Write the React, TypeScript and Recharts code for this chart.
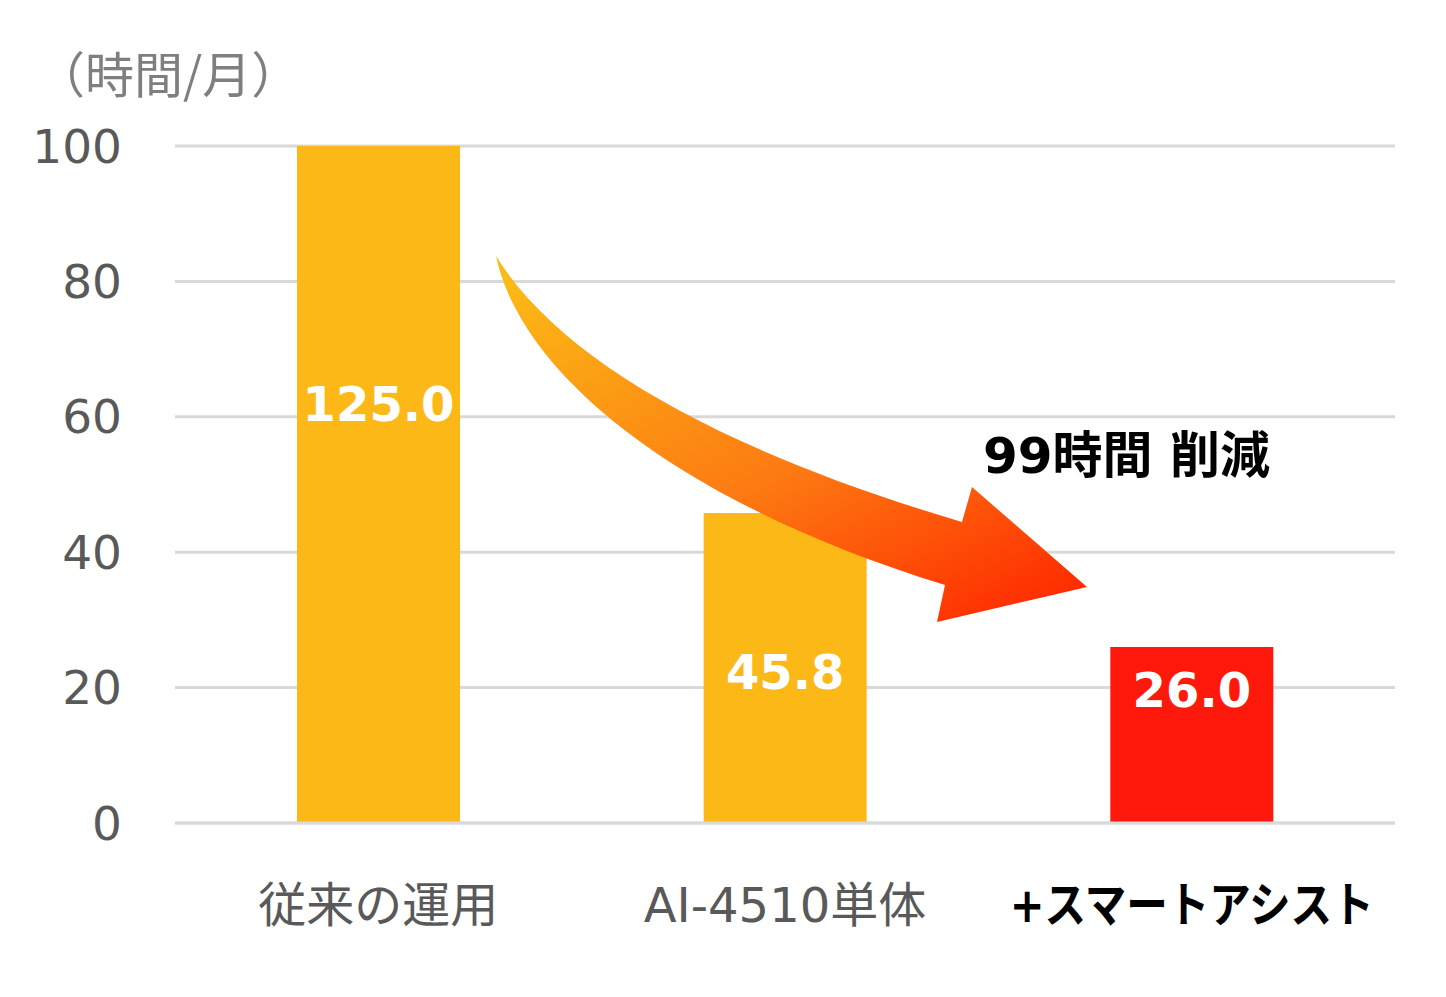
import { Bar, BarChart, CartesianGrid, Cell, LabelList, XAxis, YAxis } from "recharts";

const categories = ["従来の運用", "AI-4510単体", "+スマートアシスト"];
const hours = [125.0, 45.8, 26.0];
const barColors = ["#FBB817", "#FBB817", "#FF190C"];
const yTicks = [0, 20, 40, 60, 80, 100];
const unitLabel = "（時間/月）";
const reductionLabel = "99時間 削減";

const data = categories.map((name, i) => ({ name, hours: hours[i] }));

const FONT = "'DejaVu Sans', 'Noto Sans CJK JP', sans-serif";

function CategoryTick(props: any) {
  const { x, y, payload, index } = props;
  const last = index === categories.length - 1;
  return (
    <text
      x={x}
      y={y + 82}
      textAnchor="middle"
      dominantBaseline="central"
      fontFamily={FONT}
      fontSize={48}
      fontWeight={last ? 700 : 400}
      fill={last ? "#000000" : "#595959"}
      // the bold katakana in the original is set in a narrower face
      textLength={last ? 364 : undefined}
      lengthAdjust={last ? "spacingAndGlyphs" : undefined}
    >
      {payload.value}
    </text>
  );
}

function ValueLabel(props: any) {
  const { x, y, width, height, value } = props;
  // tall bars: centred, short bar: near the top
  const cy = height > 200 ? y + height / 2 + 4 : y + 43;
  return (
    <text
      x={x + width / 2}
      y={cy}
      textAnchor="middle"
      dominantBaseline="central"
      fontFamily={FONT}
      fontSize={48}
      fontWeight={700}
      fill="#FFFFFF"
    >
      {Number(value).toFixed(1)}
    </text>
  );
}

export default function App() {
  return (
    <div style={{ position: "absolute", left: 0, top: 0, width: 1446, height: 997, background: "#fff" }}>
      <BarChart
        width={1446}
        height={997}
        data={data}
        margin={{ top: 146, right: 51, bottom: 0, left: 0 }}
        barCategoryGap="30%"
      >
        <CartesianGrid horizontal vertical={false} stroke="#D9D9D9" strokeWidth={3} />
        <XAxis
          dataKey="name"
          axisLine={{ stroke: "#D9D9D9", strokeWidth: 3 }}
          tickLine={false}
          tickSize={0}
          tickMargin={0}
          height={174}
          interval={0}
          tick={<CategoryTick />}
        />
        <YAxis
          domain={[0, 100]}
          ticks={yTicks}
          allowDataOverflow
          width={175}
          axisLine={false}
          tickLine={false}
          tickSize={0}
          tickMargin={53}
          tick={{ fill: "#595959", fontSize: 47, fontFamily: FONT }}
        />
        <Bar dataKey="hours" isAnimationActive={false}>
          {data.map((d, i) => (
            <Cell key={d.name} fill={barColors[i]} />
          ))}
          <LabelList dataKey="hours" content={<ValueLabel />} />
        </Bar>
      </BarChart>
      <svg
        width={1446}
        height={997}
        style={{ position: "absolute", left: 0, top: 0, pointerEvents: "none" }}
      >
        <defs>
          <linearGradient id="arrowFill" x1="0.1" y1="0" x2="0.9" y2="1">
            <stop offset="0%" stopColor="#FBBA16" />
            <stop offset="55%" stopColor="#FD7A12" />
            <stop offset="100%" stopColor="#FF2A00" />
          </linearGradient>
        </defs>
        <text x={36} y={93} fontFamily="'Noto Sans CJK JP', sans-serif" fontSize={49} fill="#7F7F7F">
          {unitLabel}
        </text>
        <path
          d="M496,256 C560,360 720,450 962,522 L972,487 L1087,587 L937,622 L945,585 C670,500 520,370 496,256 Z"
          fill="url(#arrowFill)"
        />
        <text x={983} y={473} fontFamily={FONT} fontSize={50} fontWeight={700} fill="#000000">
          {reductionLabel}
        </text>
      </svg>
    </div>
  );
}
